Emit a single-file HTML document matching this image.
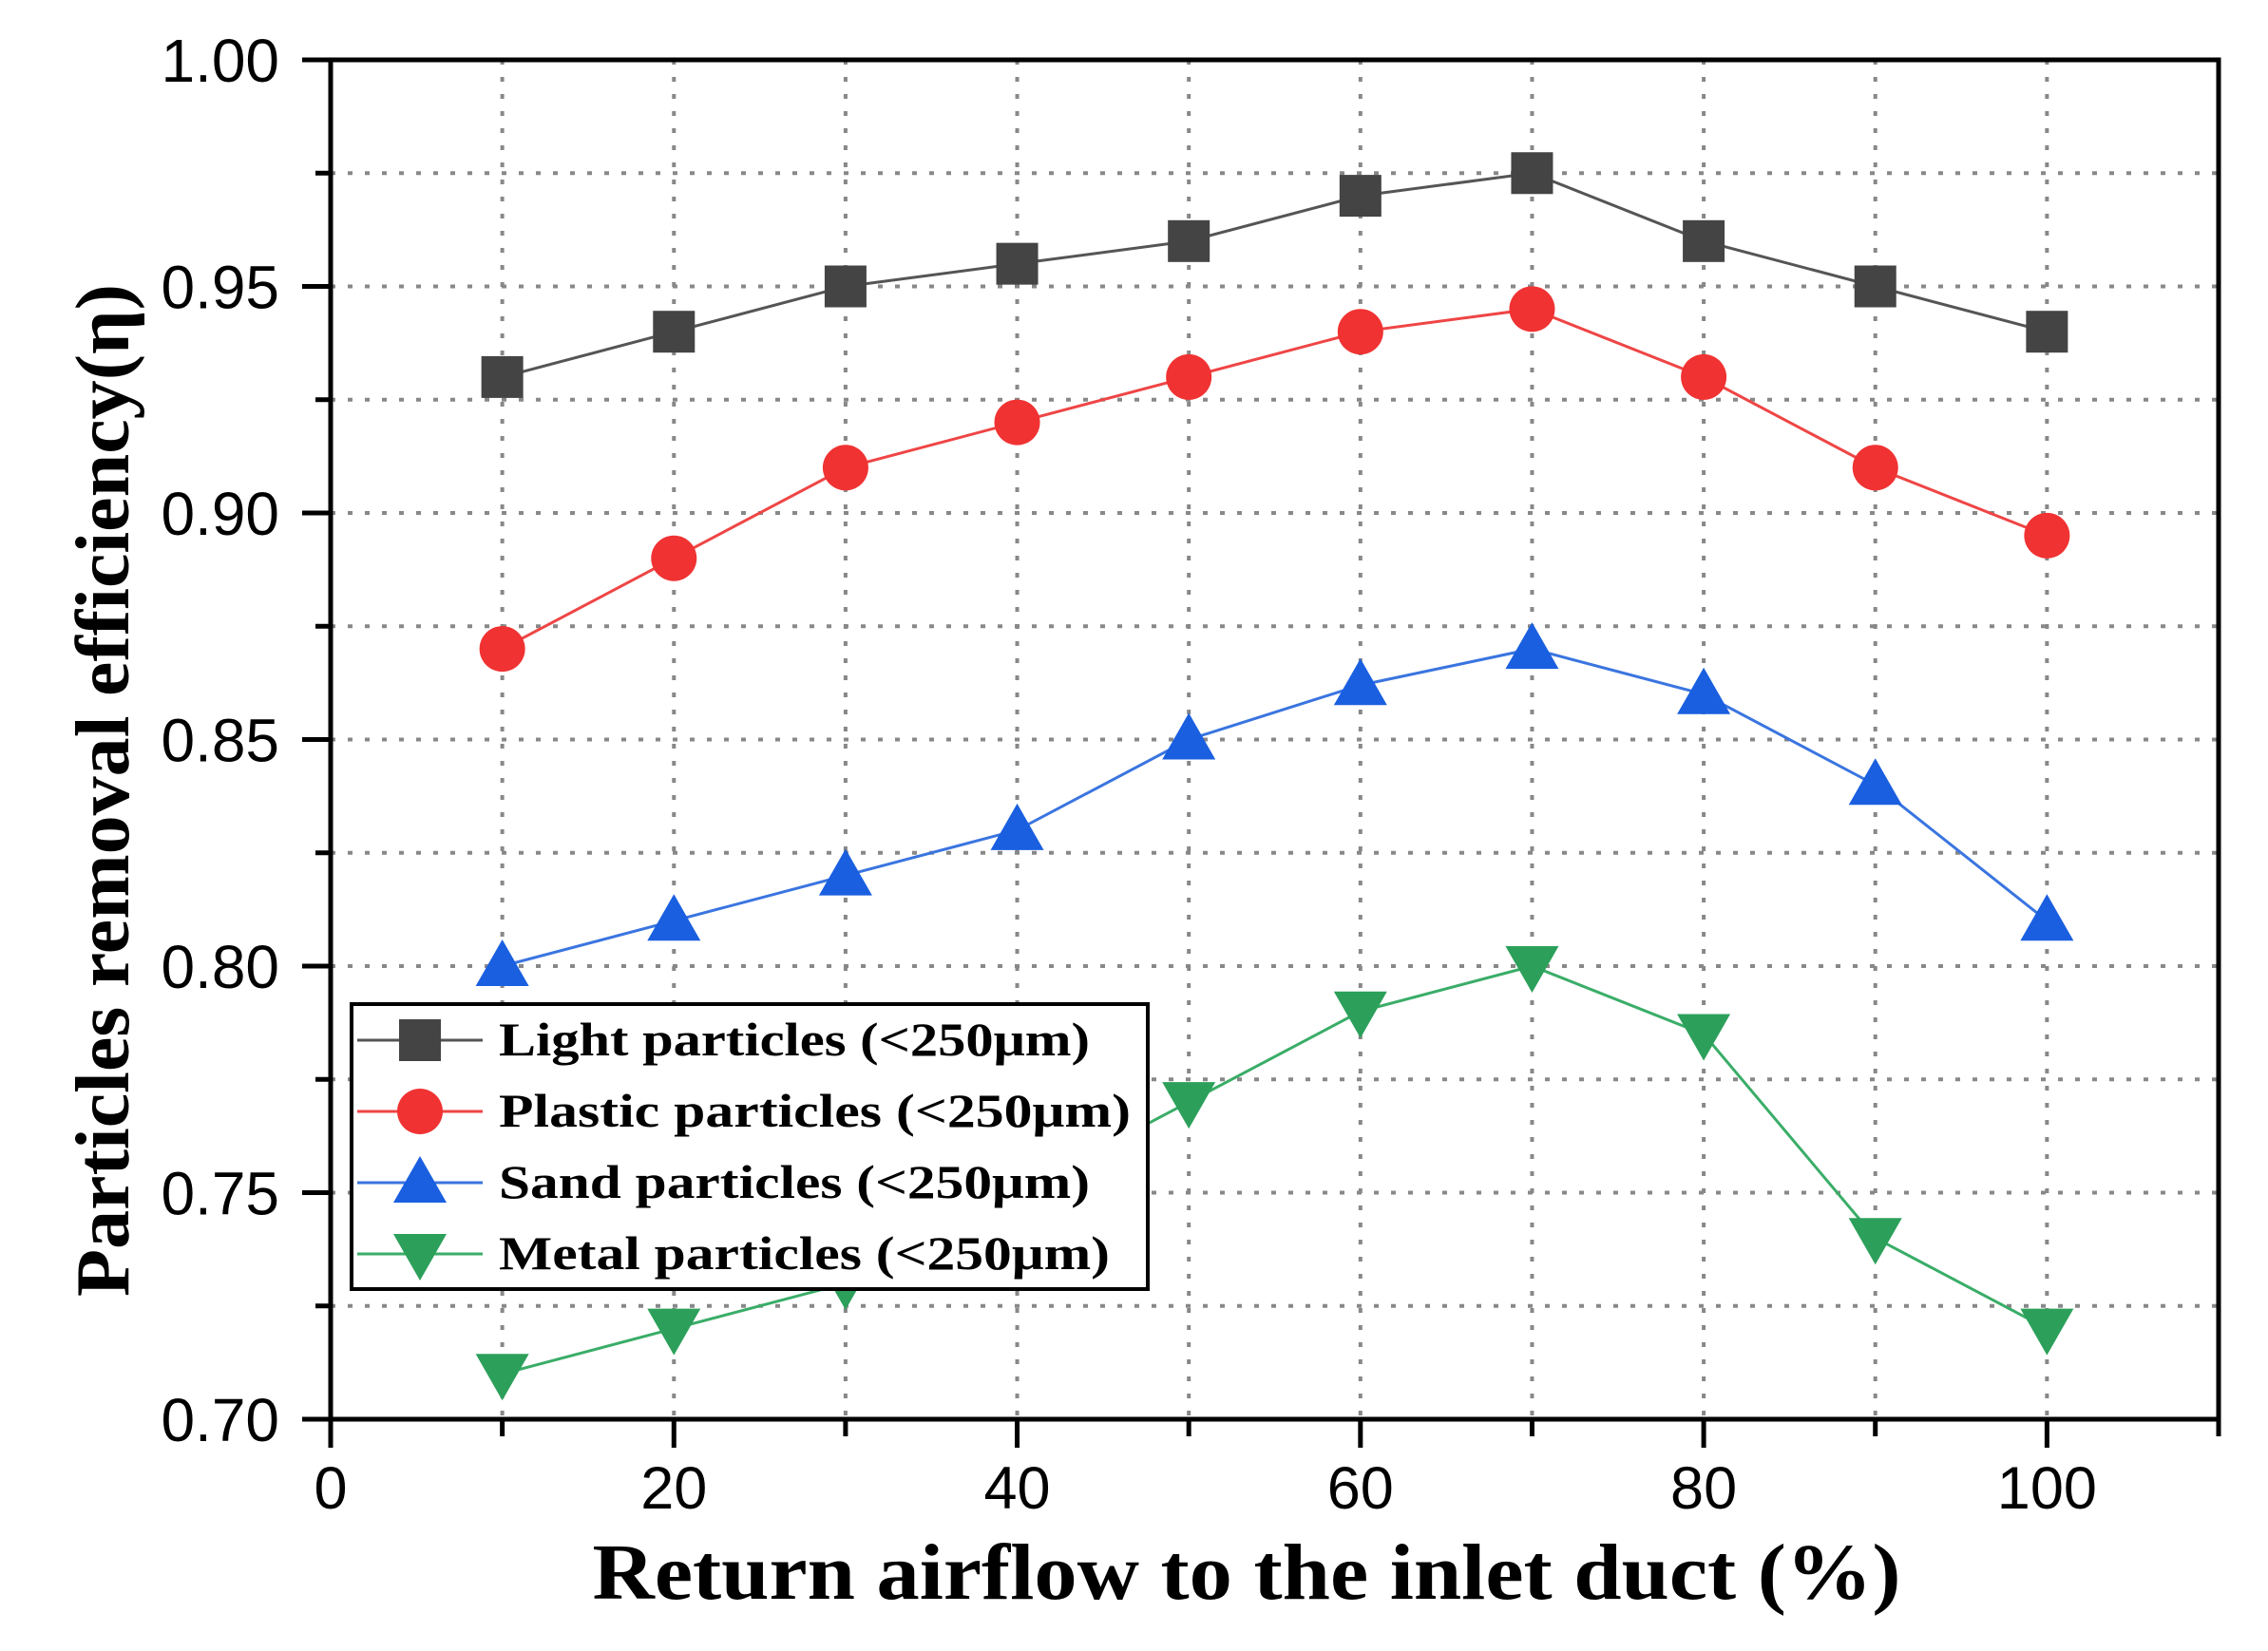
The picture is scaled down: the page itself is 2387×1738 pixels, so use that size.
<!DOCTYPE html>
<html><head><meta charset="utf-8"><style>html,body{margin:0;padding:0;background:#fff}svg{display:block}</style></head>
<body>
<svg id="chart" width="2387" height="1738" viewBox="0 0 2387 1738" xmlns="http://www.w3.org/2000/svg">
<g id="grid"></g>
<g id="series"></g>
<g id="axes"></g>
<g id="legend"></g>
</svg>
<script>
const xCats = [10,20,30,40,50,60,70,80,90,100];
const lightVals = [0.93,0.94,0.95,0.955,0.96,0.97,0.975,0.96,0.95,0.94];
const plasticVals = [0.87,0.89,0.91,0.92,0.93,0.94,0.945,0.93,0.91,0.895];
const sandVals = [0.80,0.81,0.82,0.83,0.85,0.862,0.87,0.86,0.84,0.81];
const metalVals = [0.71,0.72,0.73,0.75,0.77,0.79,0.80,0.785,0.74,0.72];
const xTickLabels = ["0","20","40","60","80","100"];
const yTickLabels = ["0.70","0.75","0.80","0.85","0.90","0.95","1.00"];
const legendLabels = ["Light particles (<250μm)","Plastic particles (<250μm)","Sand particles (<250μm)","Metal particles (<250μm)"];

const NS="http://www.w3.org/2000/svg";
const X0=348,X1=2335,Y0=1494,Y1=63;
const xs=v=>X0+(v-0)/110*(X1-X0);
const ys=v=>Y0-(v-0.70)/0.30*(Y0-Y1);
function mk(tag,attrs,parent){const e=document.createElementNS(NS,tag);for(const k in attrs)e.setAttribute(k,attrs[k]);parent.appendChild(e);return e;}
const grid=document.getElementById('grid'),axes=document.getElementById('axes'),ser=document.getElementById('series'),leg=document.getElementById('legend');

for(let v=10;v<=100;v+=10){const l=mk('line',{x1:xs(v),x2:xs(v),y1:Y1,y2:Y0,stroke:'#888','stroke-width':4,'stroke-dasharray':'5 13'},grid);

}
for(let i=1;i<12;i++){const v=0.70+i*0.025;const l=mk('line',{x1:X0,x2:X1,y1:ys(v),y2:ys(v),stroke:'#888','stroke-width':4,'stroke-dasharray':'5 13'},grid);

}

const defs=[
 {vals:lightVals,color:'#444444',line:'#555555',m:'square',name:'light'},
 {vals:plasticVals,color:'#f03232',line:'#ef4545',m:'circle',name:'plastic'},
 {vals:sandVals,color:'#1a5fe0',line:'#3a75e0',m:'up',name:'sand'},
 {vals:metalVals,color:'#2ca05a',line:'#3aad68',m:'down',name:'metal'}];
function marker(type,x,y,color,parent){
 let e;
 if(type==='square')e=mk('rect',{x:x-22,y:y-22,width:44,height:44,fill:color},parent);
 else if(type==='circle')e=mk('circle',{cx:x,cy:y,r:24,fill:color},parent);
 else if(type==='up')e=mk('polygon',{points:`${x-28},${y+21} ${x+28},${y+21} ${x},${y-28}`,fill:color},parent);
 else e=mk('polygon',{points:`${x-28},${y-21} ${x+28},${y-21} ${x},${y+28}`,fill:color},parent);
 return e;}
defs.forEach(d=>{
 const pts=d.vals.map((v,i)=>xs(xCats[i])+','+ys(v)).join(' ');
 const pl=mk('polyline',{points:pts,fill:'none',stroke:d.line,'stroke-width':3},ser);
 
 
 d.vals.forEach((v,i)=>{const m=marker(d.m,xs(xCats[i]),ys(v),d.color,ser);
 
 });
});

const fr=mk('rect',{x:X0,y:Y1,width:X1-X0,height:Y0-Y1,fill:'none',stroke:'#000','stroke-width':5},axes);


for(let v=0;v<=110;v+=10){const major=v%20===0;const t=mk('line',{x1:xs(v),x2:xs(v),y1:Y0,y2:Y0+(major?30:18),stroke:'#000','stroke-width':5},axes);

}
xTickLabels.forEach(s=>{const v=+s;const t=mk('text',{x:xs(v),y:1588,'text-anchor':'middle','font-family':'Liberation Sans, sans-serif','font-size':63},axes);t.textContent=s;

});
for(let i=0;i<=12;i++){const v=0.70+i*0.025;const major=i%2===0;const t=mk('line',{x1:X0,x2:X0-(major?30:16),y1:ys(v),y2:ys(v),stroke:'#000','stroke-width':5},axes);

}
yTickLabels.forEach(s=>{const v=+s;const t=mk('text',{x:294,y:ys(v)+23,'text-anchor':'end','font-family':'Liberation Sans, sans-serif','font-size':64},axes);t.textContent=s;

});
const xt=mk('text',{x:1312,y:1683,'text-anchor':'middle','font-family':'Liberation Serif, serif','font-weight':'bold','font-size':84,textLength:1377,lengthAdjust:'spacingAndGlyphs'},axes);
xt.textContent='Return airflow to the inlet duct (%)';


const yt=mk('text',{x:0,y:0,'text-anchor':'middle','font-family':'Liberation Serif, serif','font-weight':'bold','font-size':80,textLength:1066,lengthAdjust:'spacingAndGlyphs',transform:'translate(135,832) rotate(-90)'},axes);
yt.textContent='Particles removal efficiency(η)';



const lb=mk('rect',{x:370,y:1057,width:838,height:300,fill:'#fff',stroke:'#000','stroke-width':4},leg);


const rowsY=[1095,1170,1245,1320];
const widths=[622,665,622,643];
defs.forEach((d,i)=>{
 const y=rowsY[i];
 const g=mk('g',{},leg);
 
 
 mk('line',{x1:376,x2:508,y1:y,y2:y,stroke:d.line,'stroke-width':3},g);
 marker(d.m,442,y,d.color,g);
 const t=mk('text',{x:525,y:y+16,'font-family':'Liberation Serif, serif','font-weight':'bold','font-size':50,textLength:widths[i],lengthAdjust:'spacingAndGlyphs'},g);
 t.textContent=legendLabels[i];
});
</script>
</body></html>
